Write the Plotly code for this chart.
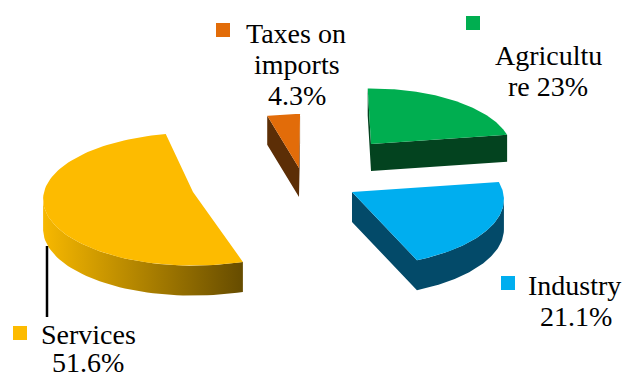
import numpy as np
import plotly.graph_objects as go

# Shares of GDP by sector, percent
sectors = ["Agriculture", "Industry", "Services", "Taxes on imports"]
shares = [23.0, 21.1, 51.6, 4.3]

top_colors = ["#00AE50", "#00AEEF", "#FDBB00", "#E26C09"]
wall_colors = ["#03431F", "#034A69", None, "#5C2E06"]
services_wall_scale = [[0, "#F7B800"], [1, "#664C00"]]

# Exploded pie layout: wedge tip in pixels, radius, clockwise start nudge in degrees
tips = [(371, 144), (352, 192), (193, 192), (299, 168)]
radii = [140, 151, 149, 136]
nudges = [-1.5, -1.5, 3.8, 0.5]
depths = [27, 30, 30, 29]
TILT = 0.44
PERSPECTIVE = 0.11

# Label lines: centre x, centre y, text
label_lines = [
    (296, 33, "Taxes on"),
    (297, 64, "imports"),
    (297, 95, f"{shares[3]}%"),
    (548, 55, "Agricultu"),
    (548, 86, f"re {shares[0]:g}%"),
    (574, 285, "Industry"),
    (576, 316, f"{shares[1]}%"),
    (88, 334, "Services"),
    (88, 362, f"{shares[2]}%"),
]
key_squares = [(473, 23, 0), (508, 283, 1), (20, 333, 2), (223, 30, 3)]


def project(tip, radius, theta):
    """Map clockwise-from-top angles on the tilted disc to page pixels."""
    u, v = np.sin(theta), -np.cos(theta)
    scale = 1 / (1 - PERSPECTIVE * v)
    return tip[0] + radius * u * scale, tip[1] + radius * TILT * v * scale


def wedge_outline(tip, radius, start, span):
    theta = np.radians(np.linspace(start, start + span, 90))
    x, y = project(tip, radius, theta)
    return np.r_[tip[0], x, tip[0]], np.r_[tip[1], y, tip[1]]


def visible_wall(x, y, depth):
    """Extrude the leftward-running run of the closed outline downwards."""
    n = len(x) - 1
    facing = [x[i + 1] - x[i] < -1e-9 for i in range(n)]
    first = next(i for i in range(n) if facing[i] and not facing[i - 1])
    run = [first]
    i = first
    while facing[i % n]:
        i += 1
        run.append(i % n)
    wx, wy = x[run], y[run]
    return np.r_[wx, wx[::-1]], np.r_[wy, (wy + depth)[::-1]]


fig = go.Figure()
cumulative = 0.0
for i, name in enumerate(sectors):
    span = shares[i] * 3.6
    start = cumulative * 3.6 + nudges[i]
    cumulative += shares[i]
    ox, oy = wedge_outline(tips[i], radii[i], start, span)
    wx, wy = visible_wall(ox, oy, depths[i])

    wall = dict(x=wx, y=wy, mode="lines", line=dict(width=0), fill="toself",
                hoverinfo="skip", showlegend=False)
    if wall_colors[i] is None:
        wall["fillgradient"] = dict(type="horizontal", colorscale=services_wall_scale)
    else:
        wall["fillcolor"] = wall_colors[i]
    fig.add_trace(go.Scatter(**wall))

    fig.add_trace(go.Scatter(x=ox, y=oy, mode="lines", line=dict(width=0), fill="toself",
                             fillcolor=top_colors[i], name=name, showlegend=False,
                             text=f"{name}: {shares[i]}%", hoverinfo="text"))

# Leader line from the services wedge to its label
fig.add_trace(go.Scatter(x=[47, 47], y=[246, 317], mode="lines",
                         line=dict(color="#000000", width=2.5),
                         hoverinfo="skip", showlegend=False))

# Key squares beside the labels
fig.add_trace(go.Scatter(
    x=[k[0] for k in key_squares], y=[k[1] for k in key_squares], mode="markers",
    marker=dict(symbol="square", size=14, color=[top_colors[k[2]] for k in key_squares]),
    hoverinfo="skip", showlegend=False))

for cx, cy, text in label_lines:
    fig.add_annotation(x=cx, y=cy, text=text, showarrow=False, xanchor="center", yanchor="middle",
                       font=dict(family="Liberation Serif", size=28, color="#000000"))

fig.update_layout(
    width=626, height=374, margin=dict(l=0, r=0, t=0, b=0),
    paper_bgcolor="#FFFFFF", plot_bgcolor="#FFFFFF", showlegend=False,
    xaxis=dict(range=[0, 626], visible=False, fixedrange=True),
    yaxis=dict(range=[374, 0], visible=False, fixedrange=True),
)
fig.write_html("out.html")
